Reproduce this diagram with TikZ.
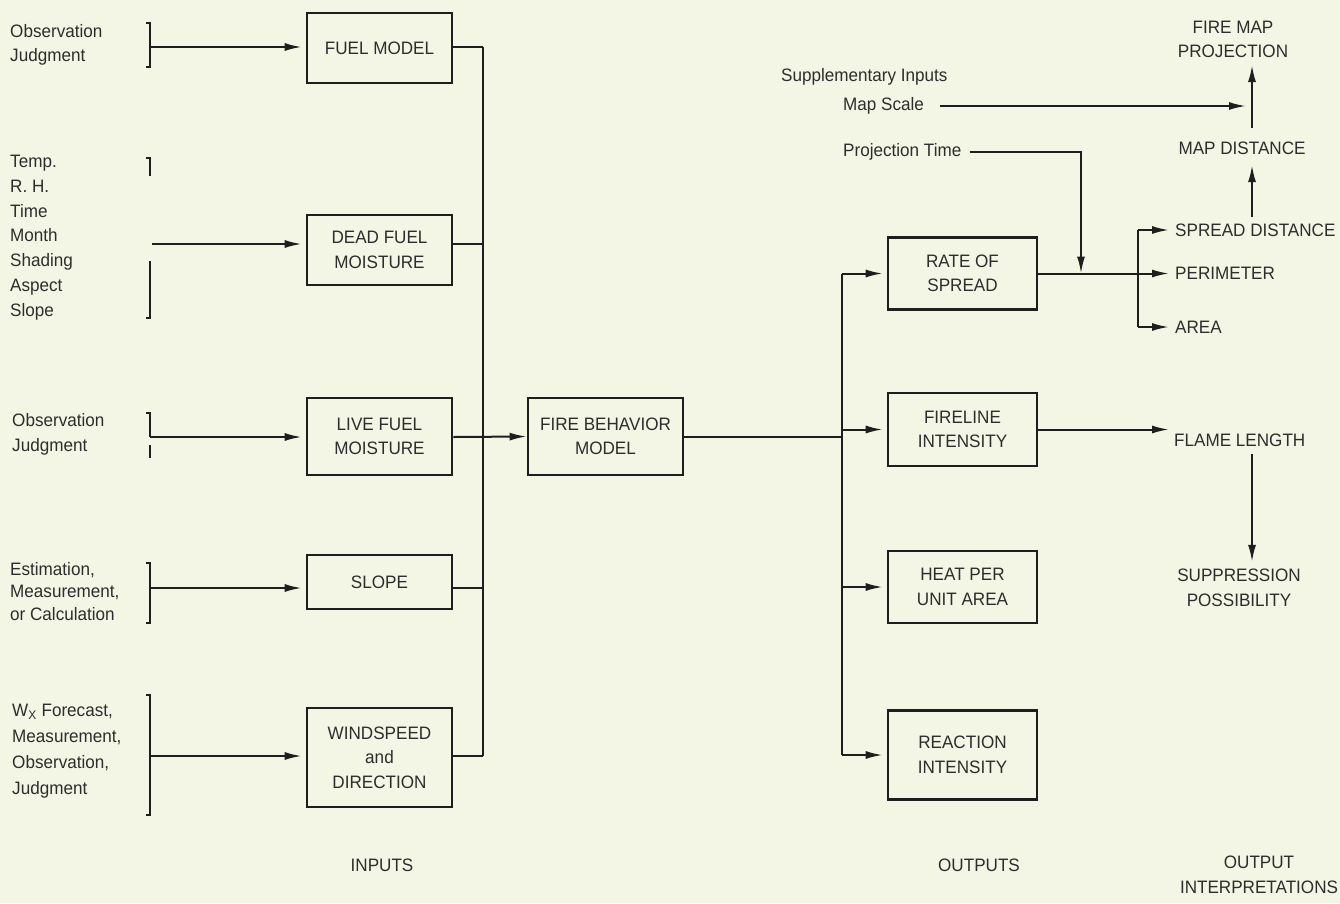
\documentclass[tikz,border=0pt]{standalone}
\usepackage{fontspec}
\setmainfont[FakeStretch=0.95]{Liberation Sans}
\usetikzlibrary{arrows.meta}
\definecolor{bg}{RGB}{243,245,229}
\definecolor{ink}{RGB}{30,30,30}
\definecolor{txt}{RGB}{45,45,45}
\newcommand\fsz{\fontsize{18}{24.5}\selectfont}
\begin{document}
\begin{tikzpicture}[x=1pt,y=-1pt,
  lbl/.style={text=txt, inner sep=0pt, font=\fsz},
  box/.style={draw=ink, line width=2.6pt, text=txt, font=\fsz, align=center, inner sep=0pt},
  ln/.style={draw=ink, line width=2pt},
  arr/.style={ln, -{Latex[length=17pt,width=8pt]}}]
\fill[bg] (0,0) rectangle (1340,903);
\useasboundingbox (0,0) rectangle (1340,903);

% ---------- input texts ----------
\node[lbl, anchor=west, align=left] (in1) at (10,45) {Observation\\Judgment};
\node[lbl, anchor=west, align=left, font=\fontsize{18}{24.8}\selectfont] (in2) at (10,237.5) {Temp.\\R. H.\\Time\\Month\\Shading\\Aspect\\Slope};
\node[lbl, anchor=west, align=left] (in3) at (12,434.5) {Observation\\Judgment};
\node[lbl, anchor=west, align=left, font=\fontsize{18}{22.5}\selectfont] (in4) at (10,591.5) {Estimation,\\Measurement,\\or Calculation};
\node[lbl, anchor=west, align=left, font=\fontsize{18}{26}\selectfont] (in5) at (12,751) {W\textsubscript{X} Forecast,\\Measurement,\\Observation,\\Judgment};

% ---------- brackets ----------
\draw[ln] (146,23) -- (150,23) -- (150,67) -- (146,67);
\draw[ln] (146,158) -- (150,158) -- (150,176);
\draw[ln] (150,261) -- (150,318) -- (146,318);
\draw[ln] (146,413) -- (150,413) -- (150,437);
\draw[ln] (150,445) -- (150,458);
\draw[ln] (146,563) -- (150,563) -- (150,623) -- (146,623);
\draw[ln] (146,695) -- (150,695) -- (150,815) -- (146,815);

\coordinate (bk1) at (150,47);
\coordinate (bk2) at (152,244);
\coordinate (bk3) at (150,437);
\coordinate (bk4) at (150,588);
\coordinate (bk5) at (150,756);

% ---------- input boxes ----------
\node[box, minimum width=145pt, minimum height=70pt] (fuel) at (379.5,48) {FUEL MODEL};
\node[box, minimum width=145pt, minimum height=70pt] (dead) at (379.5,250) {DEAD FUEL\\MOISTURE};
\node[box, minimum width=145pt, minimum height=77pt] (live) at (379.5,436.5) {LIVE FUEL\\MOISTURE};
\node[box, minimum width=145pt, minimum height=54pt] (slope) at (379.5,582) {SLOPE};
\node[box, minimum width=145pt, minimum height=99pt] (wind) at (379.5,757.5) {WINDSPEED\\and\\DIRECTION};

\draw[arr, shorten >=4pt] (bk1) -- (fuel.west |- bk1);
\draw[arr, shorten >=4pt] (bk2) -- (dead.west |- bk2);
\draw[arr, shorten >=4pt] (bk3) -- (live.west |- bk3);
\draw[arr, shorten >=4pt] (bk4) -- (slope.west |- bk4);
\draw[arr, shorten >=4pt] (bk5) -- (wind.west |- bk5);

% ---------- fire behavior model ----------
\node[box, minimum width=155pt, minimum height=77pt] (fbm) at (605.5,436.5) {FIRE BEHAVIOR\\MODEL};
\coordinate (bus1) at (483,437);
\draw[ln] (bus1 |- bk1) -- (bus1 |- bk5);
\draw[ln] (fuel.east |- bk1) -- (bus1 |- bk1);
\draw[ln] (dead.east |- bk2) -- (bus1 |- bk2);
\draw[ln] (slope.east |- bk4) -- (bus1 |- bk4);
\draw[ln] (wind.east |- bk5) -- (bus1 |- bk5);
\draw[arr] (live.east |- bk3) -- (fbm.west);

% ---------- output boxes ----------
\node[box, minimum width=149pt, minimum height=72pt] (ros) at (962.5,273.5) {RATE OF\\SPREAD};
\node[box, minimum width=149pt, minimum height=73pt] (fli) at (962.5,429.5) {FIRELINE\\INTENSITY};
\node[box, minimum width=149pt, minimum height=72pt] (heat) at (962.5,587) {HEAT PER\\UNIT AREA};
\node[box, minimum width=149pt, minimum height=89pt] (react) at (962.5,755) {REACTION\\INTENSITY};

\coordinate (bus2) at (842,437);
\draw[ln] (fbm.east) -- (fbm.east -| bus2);
\draw[ln] (bus2 |- ros.west) -- (bus2 |- react.west);
\draw[arr, shorten >=4pt] (bus2 |- ros.west) -- (ros.west);
\draw[arr, shorten >=4pt] (bus2 |- fli.west) -- (fli.west);
\draw[arr, shorten >=4pt] (bus2 |- heat.west) -- (heat.west);
\draw[arr, shorten >=4pt] (bus2 |- react.west) -- (react.west);

% ---------- output interpretations ----------
\node[lbl, align=center] (firemap) at (1233,39.5) {FIRE MAP\\PROJECTION};
\node[lbl, anchor=west] (suppin) at (781,77) {Supplementary Inputs};
\node[lbl, anchor=west] (mapscale) at (843,106) {Map Scale};
\node[lbl, anchor=west] (projtime) at (843,152) {Projection Time};
\node[lbl] (mapdist) at (1242,148) {MAP DISTANCE};
\node[lbl, anchor=west] (spread) at (1175,230) {SPREAD DISTANCE};
\node[lbl, anchor=west] (perim) at (1175,273.5) {PERIMETER};
\node[lbl, anchor=west] (area) at (1175,327) {AREA};
\node[lbl, anchor=west] (flame) at (1174,440) {FLAME LENGTH};
\node[lbl, align=center] (suppr) at (1239,588) {SUPPRESSION\\POSSIBILITY};

\coordinate (ax) at (1252,0);
\coordinate (mstip) at (1246,106);
\coordinate (pj) at (1081,273.5);
\coordinate (br) at (1138,273.5);

\draw[arr, shorten <=16pt] (mapscale.east) -- (mstip);
\draw[arr, shorten <=13.5pt, shorten >=6.8pt] (mapdist.north -| ax) -- (firemap.south -| ax);
\draw[arr, shorten <=6.5pt, shorten >=10.5pt] (spread.north -| ax) -- (mapdist.south -| ax);
\draw[arr, shorten <=7.5pt, shorten >=7.3pt] (flame.south -| ax) -- (suppr.north -| ax);
\draw[arr] ([xshift=8pt]projtime.east) -| (pj);
\draw[arr, shorten >=6pt] (ros.east) -- (perim.west);
\draw[ln] (br |- spread.west) -- (br |- area.west);
\draw[arr, shorten >=6pt] (br |- spread.west) -- (spread.west);
\draw[arr, shorten >=6pt] (br |- area.west) -- (area.west);
\draw[arr, shorten >=5pt] (fli.east) -- (fli.east -| flame.west);

% ---------- column labels ----------
\node[lbl] (inputs) at (382,865) {INPUTS};
\node[lbl] (outputs) at (979,865) {OUTPUTS};
\node[lbl, align=center] (outint) at (1259,875) {OUTPUT\\INTERPRETATIONS};
\end{tikzpicture}
\end{document}
